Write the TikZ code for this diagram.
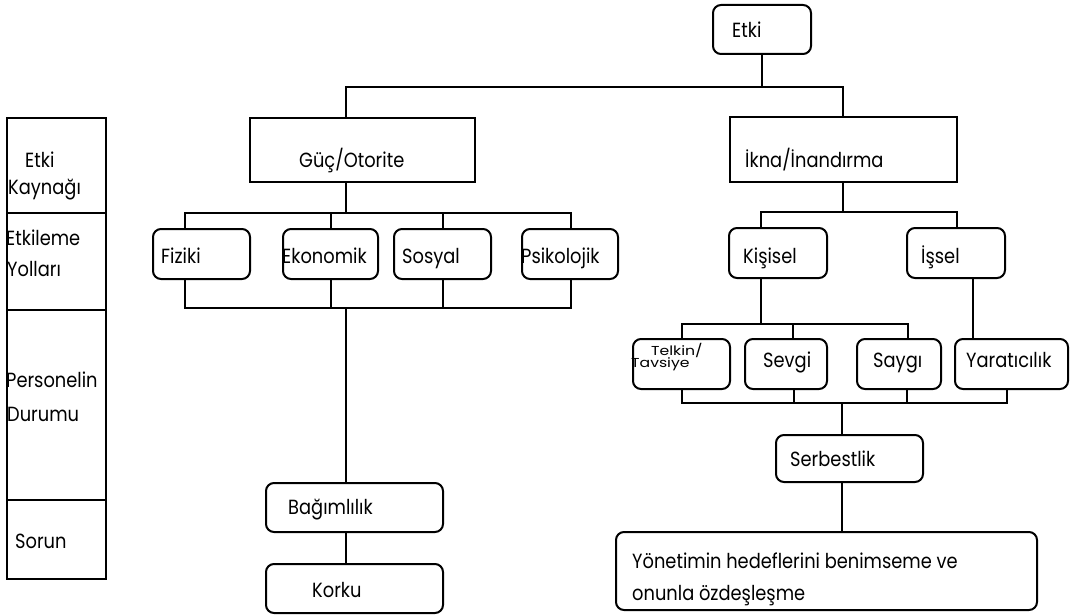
\documentclass[tikz,border=0pt]{standalone}
\usepackage{graphicx}
\usepackage{fontspec}
\setmainfont[FakeStretch=0.87]{Poppins}
\tikzset{
  ln/.style={line width=2pt},
  rbox/.style={draw, line width=2pt, rounded corners=8pt, inner sep=0pt},
  sbox/.style={draw, line width=2pt, inner sep=0pt},
  txt/.style={anchor=base west, inner sep=0pt, font=\fontsize{20.5}{20.5}\selectfont},
  smalltxt/.style={anchor=base west, inner sep=0pt, font=\fontsize{18}{18}\selectfont}
}
\newcommand{\squash}[1]{\scalebox{1}[0.72]{#1}}
\begin{document}
\begin{tikzpicture}[x=1pt,y=-1pt]
\useasboundingbox (0,0) rectangle (1070,615);
% texts first (borders drawn over them)
\node[txt] (l1a) at (25,167) {Etki};
\node[txt] (l1b) at (8,194) {Kaynağı};
\node[txt] (l2a) at (6,245) {Etkileme};
\node[txt] (l2b) at (7,276) {Yolları};
\node[txt] (l3a) at (6,387) {Personelin};
\node[txt] (l3b) at (7,421) {Durumu};
\node[txt] (l4a) at (15,548) {Sorun};

\node[txt] (tetki) at (732,38) {Etki};
\node[txt] (tguc) at (299,167) {Güç/Otorite};
\node[txt] (tikna) at (745,167) {İkna/İnandırma};
\node[txt] (tfiz) at (161,263) {Fiziki};
\node[txt] (teko) at (282,263) {Ekonomik};
\node[txt] (tsos) at (402,263) {Sosyal};
\node[txt] (tpsi) at (521,263) {Psikolojik};
\node[txt] (tkis) at (743,263) {Kişisel};
\node[txt] (tiss) at (921,263) {İşsel};
\node[smalltxt] (ttel1) at (651,355) {\squash{Telkin/}};
\node[smalltxt] (ttel2) at (631,367) {\squash{Tavsiye}};
\node[txt] (tsev) at (763,367) {Sevgi};
\node[txt] (tsay) at (873,367) {Saygı};
\node[txt] (tyar) at (966,367) {Yaratıcılık};
\node[txt] (tser) at (790,466) {Serbestlik};
\node[txt] (tyon1) at (632,568) {Yönetimin hedeflerini benimseme ve};
\node[txt] (tyon2) at (632,600) {onunla özdeşleşme};
\node[txt] (tbag) at (288,514) {Bağımlılık};
\node[txt] (tkor) at (312,597) {Korku};

% boxes
\node[rbox, minimum width=98, minimum height=49] (etki) at (762,29.5) {};
\node[sbox, minimum width=225, minimum height=64] (guc) at (362.5,150) {};
\node[sbox, minimum width=227, minimum height=65] (ikna) at (843.5,149.5) {};
\node[rbox, minimum width=97, minimum height=50] (fiz) at (201.5,254) {};
\node[rbox, minimum width=95, minimum height=50] (eko) at (330.5,254) {};
\node[rbox, minimum width=97, minimum height=50] (sos) at (442.5,254) {};
\node[rbox, minimum width=96, minimum height=50] (psi) at (570,254) {};
\node[rbox, minimum width=98, minimum height=50] (kis) at (778,253) {};
\node[rbox, minimum width=98, minimum height=50] (iss) at (956,253) {};
\node[rbox, minimum width=97, minimum height=50] (tel) at (681.5,364) {};
\node[rbox, minimum width=82, minimum height=50] (sev) at (786,364) {};
\node[rbox, minimum width=84, minimum height=50] (say) at (899,364) {};
\node[rbox, minimum width=113, minimum height=50] (yar) at (1011.5,364) {};
\node[rbox, minimum width=147, minimum height=47] (ser) at (849.5,458.5) {};
\node[rbox, minimum width=421, minimum height=78] (yon) at (826.5,571) {};
\node[rbox, minimum width=177, minimum height=49] (bag) at (354.5,507.5) {};
\node[rbox, minimum width=177, minimum height=49] (kor) at (354.5,588.5) {};

% table
\draw[ln] (7,118) rectangle (106,579);
\draw[ln] (7,213) -- (106,213);
\draw[ln] (7,310) -- (106,310);
\draw[ln] (7,500) -- (106,500);

% connectors
\draw[ln] (etki.south) -- (etki.south |- 0,87);
\draw[ln] (guc.north -| 346,0) -- (346,87) -- (843,87) -- (ikna.north -| 843,0);

\draw[ln] (guc.south -| 346,0) -- (346,213);
\draw[ln] (fiz.north -| 185,0) -- (185,213) -- (571,213) -- (psi.north -| 571,0);
\draw[ln] (eko.north -| 331,0) -- (331,213);
\draw[ln] (sos.north -| 443,0) -- (443,213);
\draw[ln] (fiz.south -| 185,0) -- (185,308) -- (571,308) -- (psi.south -| 571,0);
\draw[ln] (eko.south -| 331,0) -- (331,308);
\draw[ln] (sos.south -| 443,0) -- (443,308);
\draw[ln] (346,308) -- (bag.north -| 346,0);
\draw[ln] (bag.south -| 346,0) -- (kor.north -| 346,0);

\draw[ln] (ikna.south -| 843,0) -- (843,212);
\draw[ln] (kis.north -| 761,0) -- (761,212) -- (957,212) -- (iss.north -| 957,0);
\draw[ln] (kis.south -| 761,0) -- (761,324);
\draw[ln] (tel.north -| 682,0) -- (682,324) -- (908,324) -- (say.north -| 908,0);
\draw[ln] (sev.north -| 793,0) -- (793,324);
\draw[ln] (iss.south -| 973,0) -- (yar.north -| 973,0);
\draw[ln] (tel.south -| 682,0) -- (682,403) -- (1007,403) -- (yar.south -| 1007,0);
\draw[ln] (sev.south -| 794,0) -- (794,403);
\draw[ln] (say.south -| 907,0) -- (907,403);
\draw[ln] (842,403) -- (ser.north -| 842,0);
\draw[ln] (ser.south -| 842,0) -- (yon.north -| 842,0);
\end{tikzpicture}
\end{document}
